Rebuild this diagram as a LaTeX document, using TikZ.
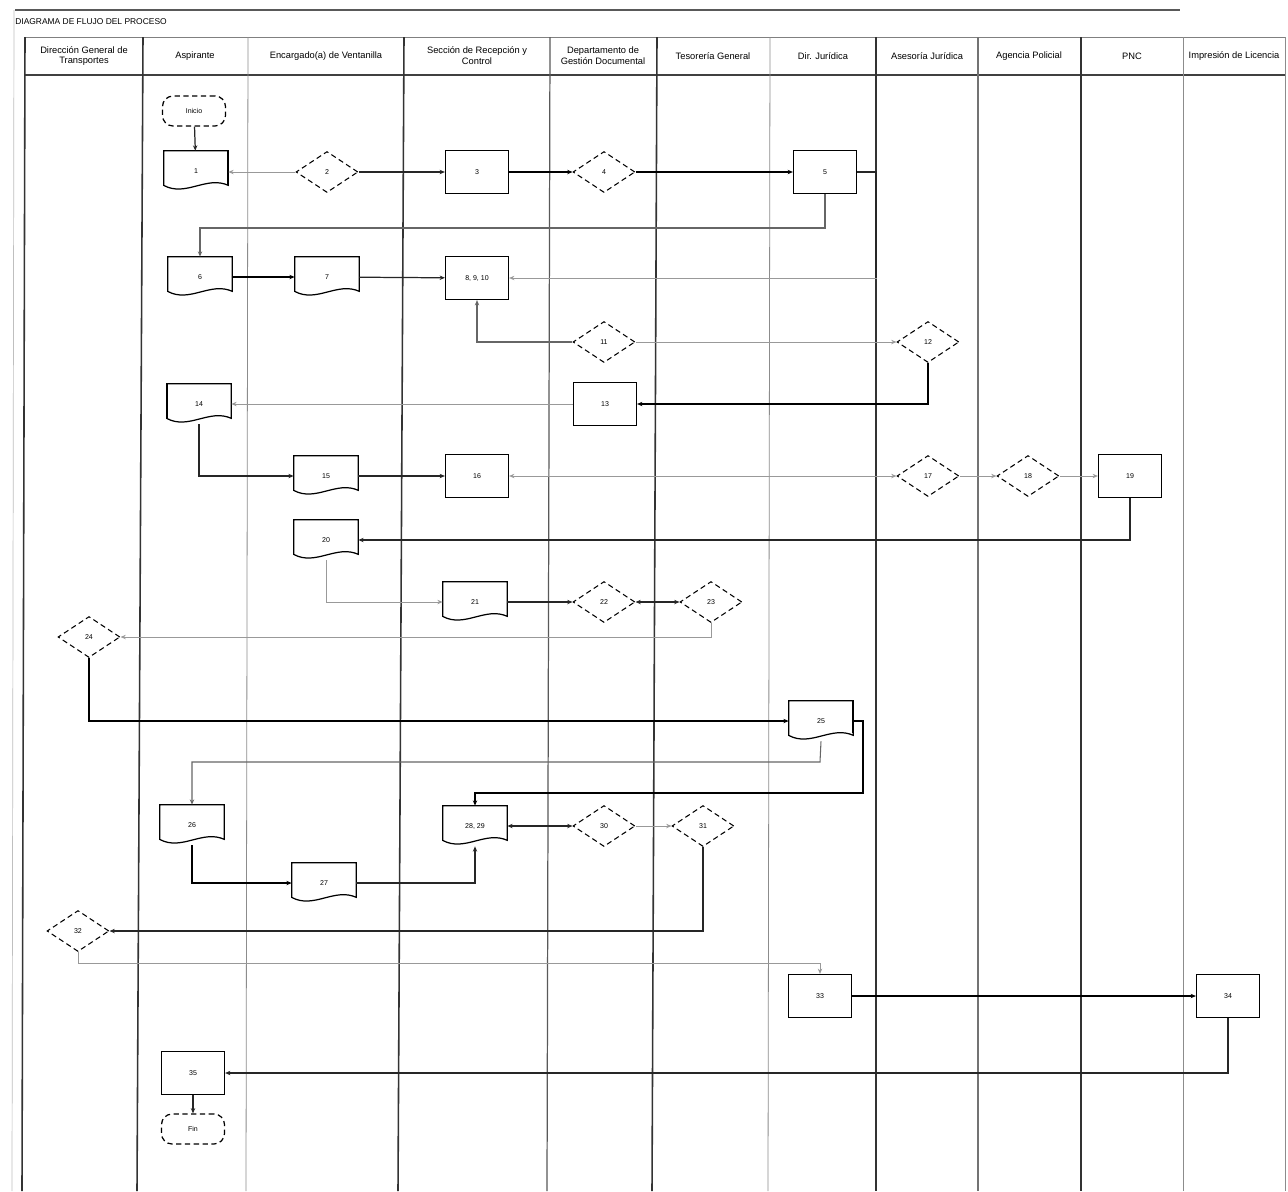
\documentclass[tikz,border=0pt]{standalone}
\usepackage{fontspec}
\setmainfont{Liberation Sans}
\usetikzlibrary{shapes.geometric,arrows.meta,calc}
\begin{document}
\begin{tikzpicture}[x=0.02cm,y=-0.02cm,
  font=\fontsize{4}{5}\selectfont,
  lanethick/.style={line width=0.9pt, black!80},
  lanethin/.style={line width=0.45pt, black!45},
  hdr/.style={font=\fontsize{5.3}{6.2}\selectfont, align=center, inner sep=1pt},
  proc/.style={draw, line width=0.7pt, minimum width=1.26cm, minimum height=0.86cm, inner sep=1pt, fill=white},
  dec/.style={diamond, draw, densely dashed, line width=0.6pt, minimum width=1.24cm, minimum height=0.82cm, inner sep=0pt, fill=white},
  docbox/.style={minimum width=1.28cm, minimum height=0.8cm, inner sep=1pt},
  docline/.style={line width=0.7pt},
  term/.style={draw, densely dashed, line width=0.7pt, rounded corners=6pt, minimum width=1.26cm, minimum height=0.6cm, inner sep=1pt, fill=white},
  arr/.style={-{Stealth[length=3pt,width=2.5pt]}},
  arrb/.style={{Stealth[length=3pt,width=2.5pt]}-{Stealth[length=3pt,width=2.5pt]}},
  conD/.style={line width=0.7pt, black!85},
  conK/.style={line width=1pt, black},
  conL/.style={line width=0.5pt, black!40},
  conM/.style={line width=0.6pt, black!60}
]
\useasboundingbox (0,0) rectangle (1288,1191);
\fill[white] (0,0) rectangle (1288,1191);

% page frame
\draw[line width=1pt, black!65] (15,10) -- (1180,10);
\draw[line width=0.4pt, black!25] (14,10) -- (12,1191);
\node[anchor=west, font=\fontsize{4.8}{5.5}\selectfont, inner sep=0pt] (title) at (15,22) {DIAGRAMA DE FLUJO DEL PROCESO};

% header and lanes
\draw[line width=0.5pt, black!50] (25,37) -- (1285,37);
\draw[line width=0.9pt, black!75] (25,75) -- (1285,75);
\draw[lanethick] (25,37) -- (22,1191);
\draw[lanethick] (143,37) -- (137,1191);
\draw[lanethin] (248,37) -- (246,1191);
\draw[lanethick] (404,37) -- (398,1191);
\draw[line width=0.7pt, black!65] (550,37) -- (547,1191);
\draw[lanethick] (657,37) -- (652,1191);
\draw[lanethin] (770,37) -- (768,1191);
\draw[lanethick] (876,37) -- (876,1191);
\draw[line width=0.6pt, black!55] (978,37) -- (978,1191);
\draw[lanethick] (1081,37) -- (1081,1191);
\draw[lanethin] (1183,37) -- (1183,1191);
\draw[lanethin] (1285,37) -- (1285,1191);

\node[hdr] (h1) at (84,56) {Dirección General de\\Transportes};
\node[hdr] (h2) at (195,56) {Aspirante};
\node[hdr] (h3) at (326,56) {Encargado(a) de Ventanilla};
\node[hdr] (h4) at (477,56) {Sección de Recepción y\\Control};
\node[hdr] (h5) at (603,56) {Departamento de\\Gestión Documental};
\node[hdr] (h6) at (713,56) {Tesorería General};
\node[hdr] (h7) at (823,56) {Dir. Jurídica};
\node[hdr] (h8) at (927,56) {Asesoría Jurídica};
\node[hdr] (h9) at (1029,56) {Agencia Policial};
\node[hdr] (h10) at (1132,56) {PNC};
\node[hdr] (h11) at (1234,56) {Impresión de Licencia};

% nodes
\node[term] (start) at (194,111) {Inicio};
\node[docbox] (doc1) at (196,171) {1};
\node[dec] (d1) at (327,172) {2};
\node[proc] (proc1) at (477,172) {3};
\node[dec] (d2) at (604,172) {4};
\node[proc] (proc2) at (825,172) {5};
\node[docbox] (doc2) at (200,277) {6};
\node[docbox] (doc3) at (327,277) {7};
\node[proc] (proc3) at (477,278) {8, 9, 10};
\node[dec] (d3) at (604,342) {11};
\node[dec] (d4) at (928,342) {12};
\node[proc] (proc4) at (605,404) {13};
\node[docbox] (doc4) at (199,404) {14};
\node[docbox] (doc5) at (326,476) {15};
\node[proc] (proc5) at (477,476) {16};
\node[dec] (d5) at (928,476) {17};
\node[dec] (d6) at (1028,476) {18};
\node[proc] (proc6) at (1130,476) {19};
\node[docbox] (doc6) at (326,540) {20};
\node[docbox] (doc7) at (475,602) {21};
\node[dec] (d7) at (604,602) {22};
\node[dec] (d8) at (711,602) {23};
\node[dec] (d9) at (89,637) {24};
\node[docbox] (doc8) at (821,721) {25};
\node[docbox] (doc10) at (192,825) {26};
\node[docbox] (doc11) at (324,883) {27};
\node[docbox] (doc9) at (475,826) {28, 29};
\node[dec] (d10) at (604,826) {30};
\node[dec] (d11) at (703,826) {31};
\node[dec] (d12) at (78,931) {32};
\node[proc] (proc7) at (820,996) {33};
\node[proc] (proc8) at (1228,996) {34};
\node[proc] (proc9) at (193,1073) {35};
\node[term] (end) at (193,1129) {Fin};

% document outlines
\foreach \n in {doc1,doc2,doc3,doc4,doc5,doc6,doc7,doc8,doc9,doc10,doc11}{
  \draw[docline] (\n.north west) -- (\n.north east) -- ($(\n.south east)+(0,-6)$)
    .. controls ($(\n.south east)+(-22,-16)$) and ($(\n.south west)+(22,6)$) .. ($(\n.south west)+(0,-6)$) -- cycle;
}
\draw[line width=1.2pt] (doc1.north east) -- ($(doc1.south east)+(0,-6)$);
\draw[line width=1.2pt] (doc4.north west) -- ($(doc4.south west)+(0,-6)$);
\draw[line width=1.2pt] (doc8.north east) -- ($(doc8.south east)+(0,-8)$);

% connectors
\draw[conD,arr] (start) -- (doc1);
\draw[conL,arr] (d1.west) -- (doc1.east |- d1.west);
\draw[conD,arr] (d1) -- (proc1);
\draw[conK,arr] (proc1) -- (d2);
\draw[conK,arr] (d2) -- (proc2);
\draw[conL,arr] (proc2.east) -- (876,172) -- (876,278) -- (proc3.east);
\draw[conD] (proc2.east) -- (876,172) -- (876,278);
\draw[conM,arr] (proc2.south) -- (825,228) -- (200,228) -- (doc2.north);
\draw[conK,arr] (doc2) -- (doc3);
\draw[conD,arr] (doc3) -- (proc3);
\draw[conM,arr] (d3.west) -| (proc3.south);
\draw[conL,arr] (d3) -- (d4);
\draw[conK,arr] (d4.south) |- (proc4.east);
\draw[conL,arr] (proc4) -- (doc4);
\draw[conD,arr] (doc4.south) |- (doc5.west);
\draw[conD,arr] (doc5) -- (proc5);
\draw[conL,arrb] (proc5) -- (d5);
\draw[conL,arr] (d5) -- (d6);
\draw[conL,arr] (d6) -- (proc6);
\draw[conD,arr] (proc6.south) |- (doc6.east);
\draw[conL,arr] (doc6.south) |- (doc7.west);
\draw[conD,arr] (doc7) -- (d7);
\draw[conD,arrb] (d7) -- (d8);
\draw[conL,arr] (d8.south) |- (d9.east);
\draw[conK,arr] (d9.south) |- (doc8.west);
\draw[conK,arr] (doc8.east) -- (863,721) -- (863,793) -- (475,793) -- (doc9.north);
\draw[conM,arr] (doc8.south) -- (820,762) -- (192,762) -- (doc10.north);
\draw[conK,arr] (doc10.south) |- (doc11.west);
\draw[conD,arr] (doc11.east) -| (doc9.south);
\draw[conD,arrb] (d10) -- (doc9);
\draw[conL,arr] (d10) -- (d11);
\draw[conD,arr] (d11.south) |- (d12.east);
\draw[conL,arr] (d12.south) |- (820,963) -- (proc7.north);
\draw[conK,arr] (proc7) -- (proc8);
\draw[conD,arr] (proc8.south) |- (proc9.east);
\draw[conD,arr] (proc9) -- (end);
\end{tikzpicture}
\end{document}
